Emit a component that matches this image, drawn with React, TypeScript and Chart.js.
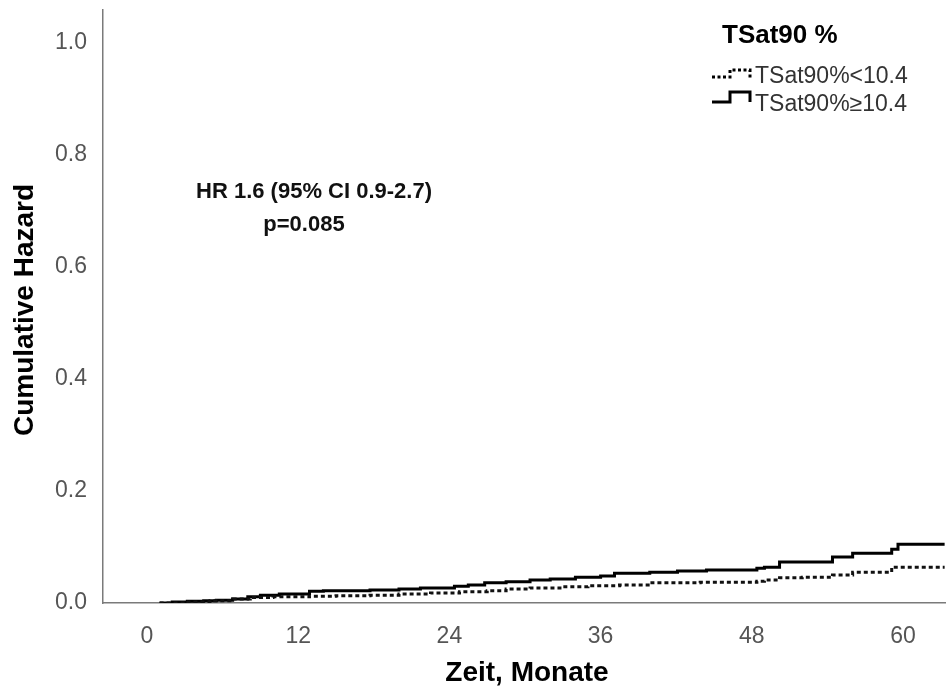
import React, { useEffect, useRef } from "react";
import { Chart, registerables } from "chart.js";

Chart.register(...registerables);

// Months and cumulative hazard, group TSat90% >= 10.4 (solid)
const timesHigh = [1.0, 2.0, 3.2, 4.5, 5.5, 6.8, 8.0, 9.0, 10.5, 12.9, 14.0, 17.7, 20.0, 21.7, 24.4, 25.5, 26.8, 28.5, 30.4, 32.0, 34.0, 36.0, 37.1, 39.9, 42.1, 44.4, 48.4, 49.0, 50.2, 54.4, 56.0, 59.1, 59.6, 63.3];
const hazardHigh = [0.0, 0.002, 0.003, 0.004, 0.005, 0.007, 0.011, 0.014, 0.016, 0.021, 0.022, 0.023, 0.025, 0.027, 0.030, 0.032, 0.036, 0.038, 0.041, 0.043, 0.046, 0.048, 0.053, 0.055, 0.057, 0.059, 0.062, 0.064, 0.073, 0.082, 0.089, 0.096, 0.105, 0.105];

// Months and cumulative hazard, group TSat90% < 10.4 (dotted)
const timesLow = [1.0, 3.0, 5.0, 6.8, 8.2, 10.0, 12.9, 15.0, 17.7, 20.0, 22.5, 24.8, 27.0, 28.5, 30.4, 33.0, 35.0, 37.5, 39.9, 43.9, 48.4, 49.0, 50.2, 52.0, 54.4, 56.0, 59.1, 63.3];
const hazardLow = [0.0, 0.002, 0.004, 0.007, 0.010, 0.011, 0.012, 0.013, 0.014, 0.016, 0.018, 0.020, 0.022, 0.025, 0.027, 0.029, 0.031, 0.032, 0.036, 0.037, 0.039, 0.041, 0.045, 0.046, 0.050, 0.055, 0.064, 0.064];

const yTicks = [0, 0.2, 0.4, 0.6, 0.8, 1.0];
const xTicks = [0, 12, 24, 36, 48, 60];
const legendTitle = "TSat90 %";
const legendLabels = ["TSat90%<10.4", "TSat90%\u226510.4"];
const annotationLines = ["HR 1.6 (95% CI 0.9-2.7)", "p=0.085"];
const xTitle = "Zeit, Monate";
const yTitle = "Cumulative Hazard";

const FONT = "'Liberation Sans', Arial, Helvetica, sans-serif";

const textPlugin = {
  id: "textPlugin",
  afterDraw(chart: any) {
    const ctx = chart.ctx as CanvasRenderingContext2D;
    ctx.save();
    // axis titles
    ctx.fillStyle = "#000";
    ctx.font = `bold 28px ${FONT}`;
    ctx.textAlign = "center";
    ctx.textBaseline = "middle";
    ctx.fillText(xTitle, 527, 673);
    ctx.save();
    ctx.translate(25, 310);
    ctx.rotate(-Math.PI / 2);
    ctx.fillText(yTitle, 0, 0);
    ctx.restore();

    // annotation
    ctx.font = `bold 22px ${FONT}`;
    ctx.fillStyle = "#111";
    ctx.fillText(annotationLines[0], 314, 192);
    ctx.fillText(annotationLines[1], 304, 225);

    // legend
    ctx.textAlign = "left";
    ctx.fillStyle = "#000";
    ctx.font = `bold 26px ${FONT}`;
    ctx.fillText(legendTitle, 722, 36);
    ctx.font = `23px ${FONT}`;
    ctx.fillStyle = "#333";
    ctx.fillText(legendLabels[0], 755, 77);
    ctx.fillText(legendLabels[1], 755, 105);

    ctx.strokeStyle = "#000";
    ctx.lineWidth = 3;
    ctx.setLineDash([3, 2.5]);
    ctx.beginPath();
    ctx.moveTo(712, 77);
    ctx.lineTo(730, 77);
    ctx.lineTo(730, 70);
    ctx.lineTo(750, 70);
    ctx.lineTo(750, 78);
    ctx.stroke();

    ctx.setLineDash([]);
    ctx.beginPath();
    ctx.moveTo(712, 102);
    ctx.lineTo(730, 102);
    ctx.lineTo(730, 92);
    ctx.lineTo(750, 92);
    ctx.lineTo(750, 102);
    ctx.stroke();
    ctx.restore();
  },
};

export default function App() {
  const ref = useRef<HTMLCanvasElement | null>(null);

  useEffect(() => {
    if (!ref.current) return;
    const chart = new Chart(ref.current, {
      type: "line",
      data: {
        datasets: [
          {
            label: legendLabels[0],
            data: timesLow.map((t, i) => ({ x: t, y: hazardLow[i] })),
            borderColor: "#111",
            borderWidth: 3,
            borderDash: [4, 3],
            pointRadius: 0,
            stepped: true,
            fill: false,
          },
          {
            label: legendLabels[1],
            data: timesHigh.map((t, i) => ({ x: t, y: hazardHigh[i] })),
            borderColor: "#000",
            borderWidth: 3,
            pointRadius: 0,
            stepped: true,
            fill: false,
          },
        ],
      },
      options: {
        animation: false,
        responsive: false,
        devicePixelRatio: 1,
        layout: { padding: { left: 0, right: 2, top: 10, bottom: 0 } },
        plugins: { legend: { display: false }, tooltip: { enabled: false } },
        scales: {
          x: {
            type: "linear",
            min: -3.49,
            max: 63.33,
            afterBuildTicks: (s: any) => {
              s.ticks = xTicks.map((v) => ({ value: v }));
            },
            afterFit: (s: any) => {
              s.height = 89;
              s.paddingLeft = 0;
              s.paddingRight = 0;
            },
            grid: { display: false },
            border: { display: true, color: "#7a7a7a", width: 1.5 },
            ticks: {
              padding: 12,
              color: "#555",
              font: { family: FONT, size: 23 },
              maxRotation: 0,
              autoSkip: false,
              callback: (v: any) => String(v),
            },
          },
          y: {
            type: "linear",
            min: 0,
            max: 1.059,
            afterBuildTicks: (s: any) => {
              s.ticks = yTicks.map((v) => ({ value: v }));
            },
            afterFit: (s: any) => {
              s.width = 103;
              s.paddingTop = 0;
              s.paddingBottom = 0;
            },
            grid: { display: false },
            border: { display: true, color: "#7a7a7a", width: 1.5 },
            ticks: {
              padding: 8,
              color: "#555",
              font: { family: FONT, size: 23 },
              autoSkip: false,
              callback: (v: any) => Number(v).toFixed(1),
            },
          },
        },
      },
      plugins: [textPlugin],
    });
    return () => chart.destroy();
  }, []);

  return (
    <div style={{ position: "absolute", left: 0, top: 0, width: 947, height: 692, background: "#fff" }}>
      <canvas ref={ref} width={947} height={692} style={{ display: "block" }} />
    </div>
  );
}
